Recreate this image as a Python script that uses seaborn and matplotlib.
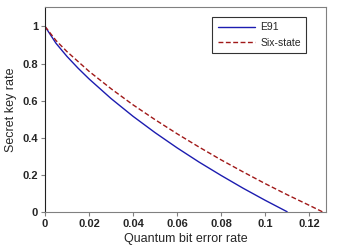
import pandas as pd
import matplotlib
matplotlib.use("Agg")
import matplotlib.pyplot as plt
import seaborn as sns

# values
qber = [0, 0.005, 0.01, 0.015, 0.02, 0.03, 0.04, 0.05, 0.06, 0.07, 0.08, 0.09, 0.10, 0.11]
e91 = [1.0, 0.909, 0.838, 0.775, 0.717, 0.611, 0.515, 0.427, 0.345, 0.268, 0.196, 0.127, 0.062, 0.0]

qber6 = [0, 0.005, 0.01, 0.02, 0.03, 0.04, 0.05, 0.06, 0.07, 0.08, 0.09, 0.10, 0.11, 0.12, 0.126]
six_state = [1.0, 0.924, 0.864, 0.758, 0.664, 0.577, 0.497, 0.421, 0.349, 0.280, 0.215, 0.152, 0.092, 0.035, 0.0]

x_ticks = [0, 0.02, 0.04, 0.06, 0.08, 0.1, 0.12]
x_labels = ["0", "0.02", "0.04", "0.06", "0.08", "0.1", "0.12"]
y_ticks = [0, 0.2, 0.4, 0.6, 0.8, 1]
y_labels = ["0", "0.2", "0.4", "0.6", "0.8", "1"]

sns.set_style("white")
plt.rcParams['font.family'] = ['Liberation Sans', 'DejaVu Sans']

df_e91 = pd.DataFrame({'q': qber, 'r': e91})
df_six = pd.DataFrame({'q': qber6, 'r': six_state})

fig = plt.figure(figsize=(3.47, 2.5), dpi=100)
ax = fig.add_axes([0.1297, 0.153, 0.81, 0.819])
sns.lineplot(x='q', y='r', data=df_e91, ax=ax, color='#1c1cb0', lw=1.0, label='E91')
sns.lineplot(x='q', y='r', data=df_six, ax=ax, color='#a01818', lw=1.0, linestyle=(0, (3.5, 1.8)), label='Six-state')

ax.set_xlim(0, 0.1277)
ax.set_ylim(0, 1.105)
ax.set_xticks(x_ticks)
ax.set_xticklabels(x_labels, fontweight='bold')
ax.set_yticks(y_ticks)
ax.set_yticklabels(y_labels, fontweight='bold')
ax.tick_params(axis='both', labelsize=8, length=3, width=0.8, color='#808080', pad=2, direction='out')
ax.tick_params(axis='both', which='both', bottom=True, left=True)
ax.set_xlabel('Quantum bit error rate', fontsize=9, labelpad=3)
ax.set_ylabel('Secret key rate', fontsize=9, labelpad=4)

for side in ['top', 'right', 'bottom']:
    ax.spines[side].set_color('#808080')
    ax.spines[side].set_linewidth(0.8)
ax.spines['left'].set_color('#202020')
ax.spines['left'].set_linewidth(0.8)

leg = ax.legend(loc='upper right', bbox_to_anchor=(0.929, 0.951), borderaxespad=0, fontsize=7.5,
                fancybox=False, frameon=True, edgecolor='black', handlelength=3.6,
                borderpad=0.5, labelspacing=0.55, handletextpad=0.5)
leg.get_frame().set_linewidth(0.8)

plt.savefig('out.png', dpi=100)
